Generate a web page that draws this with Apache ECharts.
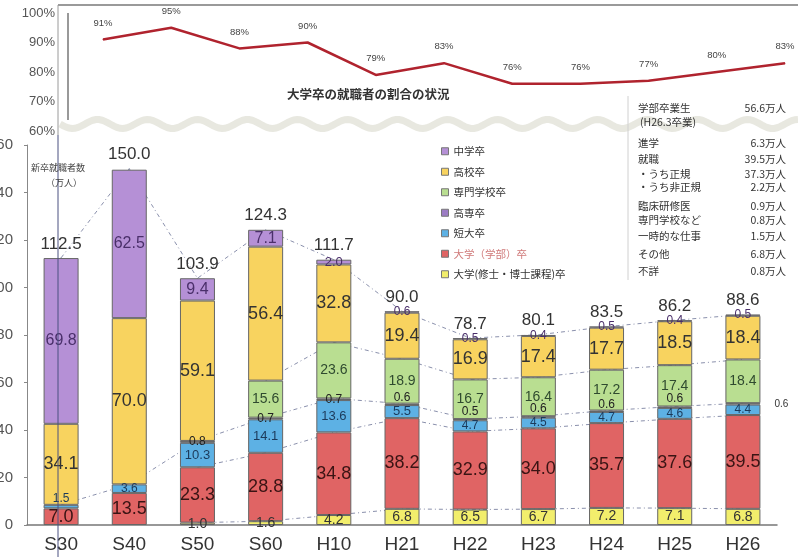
<!DOCTYPE html>
<html><head><meta charset="utf-8">
<script src="https://cdn.jsdelivr.net/npm/echarts@6/dist/echarts.min.js"></script>
<style>html,body{margin:0;padding:0;background:#fff}#c{width:798px;height:557px}</style>
</head><body><div id="c"></div>
<script>
// ---- data ----
const categories = ['S30','S40','S50','S60','H10','H21','H22','H23','H24','H25','H26'];
const rateValues = [91, 95, 88, 90, 79, 83, 76, 76, 77, 80, 83];
const rateTicks = [60, 70, 80, 90, 100];
const countTicks = [0, 20, 40, 60, 80, 100, 120, 140, 160];
const gradSchool   = [null, null, 1.0, 1.6, 4.2, 6.8, 6.5, 6.7, 7.2, 7.1, 6.8];
const undergrad    = [7.0, 13.5, 23.3, 28.8, 34.8, 38.2, 32.9, 34.0, 35.7, 37.6, 39.5];
const juniorColl   = [1.5, 3.6, 10.3, 14.1, 13.6, 5.5, 4.7, 4.5, 4.7, 4.6, 4.4];
const techColl     = [null, null, 0.8, 0.7, 0.7, 0.6, 0.5, 0.6, 0.6, 0.6, 0.6];
const vocational   = [null, null, null, 15.6, 23.6, 18.9, 16.7, 16.4, 17.2, 17.4, 18.4];
const highSchool   = [34.1, 70.0, 59.1, 56.4, 32.8, 19.4, 16.9, 17.4, 17.7, 18.5, 18.4];
const juniorHigh   = [69.8, 62.5, 9.4, 7.1, 2.0, 0.6, 0.5, 0.4, 0.5, 0.4, 0.5];
const totals       = [112.5, 150.0, 103.9, 124.3, 111.7, 90.0, 78.7, 80.1, 83.5, 86.2, 88.6];
const infoLeft  = ['学部卒業生','(H26.3卒業)','進学','就職','・うち正規','・うち非正規','臨床研修医','専門学校など','一時的な仕事','その他','不詳'];
const infoRight = ['56.6万人','','6.3万人','39.5万人','37.3万人','2.2万人','0.9万人','0.8万人','1.5万人','6.8万人','0.8万人'];

const N_JH='中学卒', N_HS='高校卒', N_VOC='専門学校卒', N_TC='高専卒', N_JC='短大卒', N_UG='大学（学部）卒', N_GR='大学(修士・博士課程)卒';
const NUMF = '"Liberation Sans", Arial, sans-serif';
const JPF = '"Noto Sans CJK JP", sans-serif';

function cum(arrs, startIdx) {
  return categories.map((c, i) => {
    if (i < startIdx) return null;
    let s = 0; arrs.forEach(a => { s += (a[i] || 0); });
    return +s.toFixed(1);
  });
}

function barSeries(name, values, color, lsize, lcolor, overrides) {
  overrides = overrides || {};
  return {
    name, type: 'bar', stack: 'all', xAxisIndex: 1, yAxisIndex: 1, barWidth: 35, z: 3,
    itemStyle: { color, borderColor: '#666', borderWidth: 1 },
    label: { show: true, position: 'inside', fontFamily: NUMF, fontSize: lsize, color: lcolor,
             formatter: p => p.value.toFixed(1) },
    data: values.map((v, i) => v == null ? null : (overrides[i] ? { value: v, label: overrides[i] } : v))
  };
}

function dashLine(values, extra) {
  return Object.assign({
    type: 'line', xAxisIndex: 1, yAxisIndex: 1, z: 1, symbol: 'none', silent: true,
    lineStyle: { color: '#8a90ac', width: 1, type: [4, 3, 1, 3] }, data: values
  }, extra || {});
}

const small = { fontSize: 12 };
const series = [
  barSeries(N_GR, gradSchool, '#f2ee6c', 14, '#333'),
  barSeries(N_UG, undergrad, '#e06464', 18, '#3a1414'),
  barSeries(N_JC, juniorColl, '#5db1e4', 13, '#1c3a5a', { 0: { offset: [0, -8], fontSize: 12 }, 1: { fontSize: 12 }, 6:small, 7:small, 8:small, 9:small, 10:small }),
  barSeries(N_TC, techColl, '#2e3768', 12, '#222', {
    5: { offset: [0, -7] }, 6: { offset: [0, -8] }, 7: { offset: [0, -8] }, 8: { offset: [0, -7] },
    9: { offset: [0, -9] }, 10: { position: 'right', distance: 14, fontSize: 10, color: '#333' } }),
  barSeries(N_VOC, vocational, '#b9de91', 14, '#2f4a2f'),
  barSeries(N_HS, highSchool, '#f8d35f', 18, '#333'),
  barSeries(N_JH, juniorHigh, '#b590d6', 16, '#4a2f6a', { 4: { fontSize: 13 }, 5:small, 6:small, 7:small, 8:small, 9:small, 10:small }),
  dashLine(cum([gradSchool], 2)),
  dashLine(cum([gradSchool, undergrad], 2)),
  dashLine(cum([gradSchool, undergrad, juniorColl, techColl], 0)),
  dashLine(cum([gradSchool, undergrad, juniorColl, techColl, vocational], 3)),
  dashLine(totals, { symbol: 'circle', symbolSize: 1, showSymbol: true, showAllSymbol: true,
    itemStyle: { color: '#8a90ac' },
    label: { show: true, position: 'top', distance: 5, fontFamily: NUMF, fontSize: 17, color: '#333',
    formatter: p => p.value.toFixed(1) } }),
  {
    name: 'rate', type: 'line', xAxisIndex: 0, yAxisIndex: 0, symbol: 'circle', symbolSize: 1, showSymbol: true, showAllSymbol: true, z: 4,
    itemStyle: { color: '#b0232e' },
    lineStyle: { color: '#b0232e', width: 2.5 },
    label: { show: true, position: 'top', distance: 11, fontFamily: NUMF, fontSize: 9.5, color: '#444', formatter: '{c}%' },
    data: rateValues
  }
];

// decorative wave (broken-axis symbol)
const wavePts = [];
for (let x = 60; x <= 798; x += 3) wavePts.push([x, 124 + 4.5 * Math.sin((x - 60) / 50 * 2 * Math.PI)]);

const graphics = [
  { type: 'polyline', z: 0, shape: { points: wavePts }, style: { stroke: '#e8e8e0', lineWidth: 7, fill: null } },
  { type: 'line', z: 10, shape: { x1: 58, y1: 5, x2: 798, y2: 5 }, style: { stroke: '#9a9a9a', lineWidth: 2 } },
  { type: 'line', z: 10, shape: { x1: 58, y1: 5, x2: 58, y2: 135 }, style: { stroke: '#9a9a9a', lineWidth: 1 } },
  { type: 'line', z: 10, shape: { x1: 58, y1: 135, x2: 58, y2: 557 }, style: { stroke: '#4b5080', lineWidth: 1 } },
  { type: 'line', z: 10, shape: { x1: 68, y1: 13, x2: 68, y2: 120 }, style: { stroke: '#999', lineWidth: 2 } },
  { type: 'line', z: 10, shape: { x1: 628, y1: 96, x2: 628, y2: 280 }, style: { stroke: '#d0d0d0', lineWidth: 1 } },
  { type: 'text', z: 10, x: 287, y: 94, style: { text: '大学卒の就職者の割合の状況', font: 'bold 12.5px ' + JPF, fill: '#333', verticalAlign: 'middle' } },
  { type: 'text', z: 10, x: 31, y: 168, style: { text: '新卒就職者数', font: '9px ' + JPF, fill: '#444', verticalAlign: 'middle' } },
  { type: 'text', z: 10, x: 46, y: 183, style: { text: '（万人）', font: '9px ' + JPF, fill: '#444', verticalAlign: 'middle' } }
];
const infoY = [108, 122, 143, 159, 174, 187, 206, 220, 236, 254, 271];
infoLeft.forEach((t, i) => {
  graphics.push({ type: 'text', z: 10, x: i === 1 ? 640 : 638, y: infoY[i], style: { text: t, font: '10.5px ' + JPF, fill: '#333', verticalAlign: 'middle' } });
  if (infoRight[i]) graphics.push({ type: 'text', z: 10, x: 786, y: infoY[i], style: { text: infoRight[i], font: '10.5px ' + JPF, fill: '#333', align: 'right', verticalAlign: 'middle' } });
});

const option = {
  animation: false,
  backgroundColor: '#fff',
  textStyle: { fontFamily: NUMF },
  grid: [
    { left: 103, right: 13, top: 13, height: 118, outerBoundsMode: 'none', containLabel: false },
    { left: 27, right: 21, top: 145, bottom: 32, outerBoundsMode: 'none', containLabel: false }
  ],
  xAxis: [
    { gridIndex: 0, type: 'category', data: categories, boundaryGap: false, show: false },
    { gridIndex: 1, type: 'category', data: categories,
      axisLine: { lineStyle: { color: '#777', width: 1.5 } }, axisTick: { show: false },
      axisLabel: { fontFamily: NUMF, fontSize: 19, color: '#333', margin: 10 } }
  ],
  yAxis: [
    { gridIndex: 0, type: 'value', min: rateTicks[0], max: rateTicks[rateTicks.length - 1], interval: 10, offset: 45,
      axisLine: { show: false }, axisTick: { show: false }, splitLine: { show: false },
      axisLabel: { fontFamily: NUMF, fontSize: 13, color: '#555', margin: 3, formatter: '{value}%' } },
    { gridIndex: 1, type: 'value', min: countTicks[0], max: countTicks[countTicks.length - 1], interval: 20,
      axisLine: { show: true, lineStyle: { color: '#888' } }, axisTick: { show: true, length: 3, lineStyle: { color: '#888' } },
      splitLine: { show: false },
      axisLabel: { fontFamily: NUMF, fontSize: 15, color: '#555', margin: 14 } }
  ],
  legend: {
    orient: 'vertical', left: 436, top: 140, itemWidth: 7, itemHeight: 7, itemGap: 8, icon: 'rect',
    textStyle: { fontFamily: JPF, fontSize: 10.5, color: '#333', lineHeight: 12.5 },
    itemStyle: { borderColor: '#777', borderWidth: 1 },
    data: [
      N_JH, N_HS, N_VOC,
      { name: N_TC, itemStyle: { color: '#9c7cc4' } },
      N_JC,
      { name: N_UG, textStyle: { color: '#d07a7a' } },
      N_GR
    ]
  },
  series,
  graphic: graphics
};
const chart = echarts.init(document.getElementById('c'));
chart.setOption(option);
</script>
</body></html>
